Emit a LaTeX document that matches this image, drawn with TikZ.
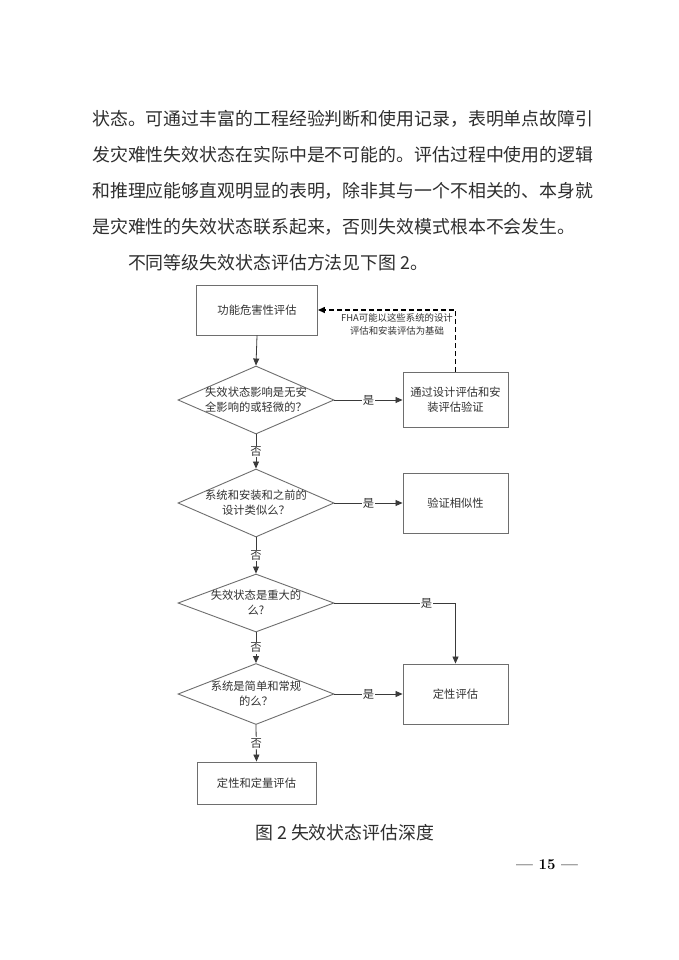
\documentclass[tikz,border=0pt]{standalone}
\usepackage{fontspec}
\newfontfamily\cjk{Noto Sans CJK SC}
\usetikzlibrary{shapes.geometric,arrows.meta}
\definecolor{boxgray}{HTML}{6E6E6E}
\definecolor{linegray}{HTML}{3A3A3A}
\definecolor{txtgray}{HTML}{333333}
\tikzset{
	bodyline/.style={anchor=west, inner sep=0pt, text=black!82, font=\cjk\fontsize{17.9}{21}\selectfont},
	flowbox/.style={draw=boxgray, line width=0.9pt, inner sep=0pt, align=center, text=txtgray, font=\cjk\fontsize{11.3}{15}\selectfont},
	ask/.style={diamond, draw=boxgray, line width=0.9pt, inner sep=0pt, minimum width=156pt, minimum height=68pt},
	asktext/.style={align=center, inner sep=0pt, text=txtgray, font=\cjk\fontsize{11.3}{15}\selectfont},
	flow/.style={draw=linegray, line width=0.8pt, -{Triangle[length=7pt,width=6pt]}},
	tag/.style={fill=white, inner sep=1pt, text=txtgray, font=\cjk\fontsize{11.3}{13}\selectfont},
	backlink/.style={draw=black, line width=1.4pt, dash pattern=on 5pt off 3pt, -{Triangle[length=7pt,width=6pt]}},
	note/.style={align=center, inner sep=0pt, text=txtgray, font=\cjk\fontsize{9.4}{13}\selectfont},
}

\begin{document}
\begin{tikzpicture}[x=1pt,y=-1pt]
	%%%%% START %%%%%
	\path[use as bounding box, fill=white] (0,0) rectangle (679,960);
	
	\node[bodyline] (line1) at (92,119) {状态。可通过丰富的工程经验判断和使用记录，表明单点故障引};
	\node[bodyline] (line2) at (92,155) {发灾难性失效状态在实际中是不可能的。评估过程中使用的逻辑};
	\node[bodyline] (line3) at (92,191) {和推理应能够直观明显的表明，除非其与一个不相关的、本身就};
	\node[bodyline] (line4) at (92,227) {是灾难性的失效状态联系起来，否则失效模式根本不会发生。};
	\node[bodyline] (line5) at (127.8,263) {不同等级失效状态评估方法见下图 2。};
	
	\node[flowbox, minimum width=121pt, minimum height=50pt] (fha) at (257,310) {功能危害性评估};
	\node[ask, label={[asktext]center:{失效状态影响是无安\\全影响的或轻微的？}}] (q1) at (256,400) {};
	\node[flowbox, minimum width=105pt, minimum height=55pt] (design) at (455.5,400) {通过设计评估和安\\装评估验证};
	\node[ask, label={[asktext]center:{系统和安装和之前的\\设计类似么？}}] (q2) at (256,503) {};
	\node[flowbox, minimum width=105pt, minimum height=60pt] (similar) at (455.5,503) {验证相似性};
	\node[ask, minimum height=58pt, label={[asktext]center:{失效状态是重大的\\么?}}] (q3) at (256,603) {};
	\node[ask, minimum height=61pt, label={[asktext]center:{系统是简单和常规\\的么？}}] (q4) at (256,694) {};
	\node[flowbox, minimum width=105pt, minimum height=60pt] (quali) at (455.5,694) {定性评估};
	\node[flowbox, minimum width=119pt, minimum height=42pt] (quant) at (256.5,783) {定性和定量评估};
	
	\draw[flow] (fha.south) -- (q1.north);
	\draw[flow] (q1.east) -- node[tag] {是} (design.west);
	\draw[flow] (q1.south) -- node[tag] {否} (q2.north);
	\draw[flow] (q2.east) -- node[tag] {是} (similar.west);
	\draw[flow] (q2.south) -- node[tag] {否} (q3.north);
	\draw[flow] (q3.east) -| node[tag, pos=0.38] {是} (quali.north);
	\draw[flow] (q3.south) -- node[tag] {否} (q4.north);
	\draw[flow] (q4.east) -- node[tag] {是} (quali.west);
	\draw[flow] (q4.south) -- node[tag] {否} (quant.north);
	
	\draw[backlink] (design.north) |- (fha.east);
	\node[note] (fhanote) at (397,324) {FHA可能以这些系统的设计\\评估和安装评估为基础};
	
	\node[bodyline] (caption) at (255,833) {图 2 失效状态评估深度};
	\node[inner sep=0pt, font=\bfseries\fontsize{15}{18}\selectfont] (pageno) at (547,865) {— 15 —};
	%%%%% END %%%%%
\end{tikzpicture}
\end{document}
